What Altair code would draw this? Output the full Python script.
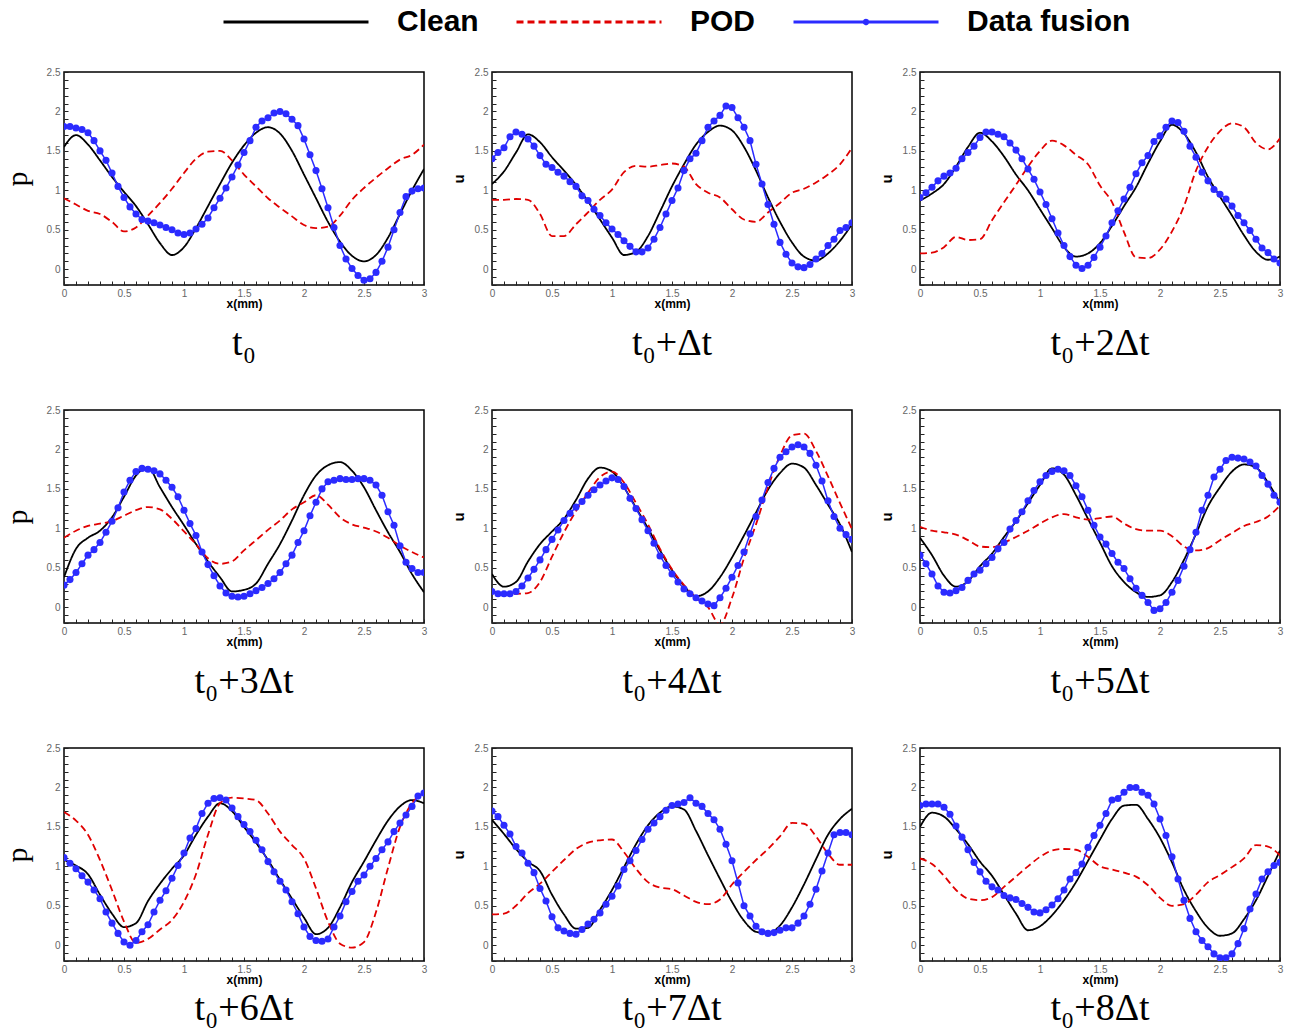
import altair as alt
import pandas as pd

# ---------------- data ----------------
SERIES = ["Clean", "POD", "Data fusion"]
COLORS = ["#000000", "#e00000", "#2b2bff"]
BLUE = "#2b2bff"
DASHES = [[1, 0], [7, 4], [1, 0]]
KEY_SHAPES = [
    "M-14.5,0H14.5",
    "M-14.5,0H14.5",
    "M-14.5,0H14.5M0.35,0A0.35,0.35 0 1,1 -0.35,0A0.35,0.35 0 1,1 0.35,0",
]

X_LINE = [round(i * 0.1, 2) for i in range(31)]      # sampling of Clean / POD
X_DOTS = [round(i * 0.05, 2) for i in range(61)]     # Data fusion markers
X_TICKS = [round(i * 0.1, 1) for i in range(31)]
Y_TICKS = [round(-0.2 + i * 0.1, 1) for i in range(28)]

TITLES = ["t\u2080", "t\u2080+\u0394t", "t\u2080+2\u0394t",
          "t\u2080+3\u0394t", "t\u2080+4\u0394t", "t\u2080+5\u0394t",
          "t\u2080+6\u0394t", "t\u2080+7\u0394t", "t\u2080+8\u0394t"]
VARS = ["p", "u", "u", "p", "u", "u", "p", "u", "u"]

CLEAN = [
    [1.55,1.70,1.58,1.38,1.17,0.98,0.80,0.57,0.33,0.18,0.28,0.52,0.80,1.08,1.35,1.57,1.73,1.80,1.72,1.50,1.20,0.90,0.60,0.35,0.17,0.10,0.18,0.40,0.70,1.00,1.27],
    [1.08,1.24,1.48,1.71,1.61,1.42,1.25,1.07,0.86,0.63,0.40,0.18,0.22,0.42,0.73,1.05,1.33,1.58,1.74,1.82,1.76,1.55,1.25,0.91,0.60,0.34,0.16,0.11,0.20,0.36,0.57],
    [0.87,0.96,1.08,1.30,1.55,1.73,1.62,1.43,1.20,1.00,0.76,0.52,0.28,0.16,0.20,0.33,0.55,0.80,1.04,1.34,1.62,1.83,1.72,1.48,1.17,0.92,0.68,0.43,0.22,0.12,0.16],
    [0.38,0.74,0.88,0.97,1.14,1.40,1.67,1.77,1.52,1.27,1.04,0.80,0.58,0.38,0.20,0.22,0.30,0.55,0.80,1.10,1.42,1.67,1.80,1.84,1.73,1.52,1.23,0.95,0.70,0.42,0.19],
    [0.42,0.26,0.32,0.58,0.80,0.96,1.12,1.36,1.63,1.77,1.72,1.52,1.26,1.00,0.72,0.47,0.27,0.14,0.20,0.38,0.63,0.91,1.20,1.49,1.70,1.82,1.77,1.55,1.30,1.05,0.70],
    [0.88,0.66,0.40,0.26,0.33,0.52,0.68,0.89,1.09,1.32,1.55,1.76,1.68,1.42,1.12,0.82,0.52,0.32,0.19,0.13,0.15,0.32,0.60,0.93,1.28,1.52,1.72,1.81,1.77,1.58,1.32],
    [1.08,1.01,0.90,0.64,0.40,0.23,0.28,0.56,0.78,0.97,1.14,1.40,1.63,1.80,1.70,1.50,1.30,1.08,0.83,0.59,0.35,0.14,0.22,0.48,0.80,1.06,1.33,1.58,1.76,1.84,1.80],
    [1.59,1.41,1.22,1.06,0.94,0.64,0.39,0.21,0.22,0.45,0.70,0.99,1.28,1.52,1.68,1.76,1.72,1.45,1.14,0.84,0.55,0.31,0.17,0.15,0.25,0.48,0.77,1.09,1.40,1.60,1.73],
    [1.50,1.68,1.63,1.47,1.28,1.06,0.88,0.64,0.40,0.19,0.24,0.38,0.57,0.80,1.07,1.34,1.60,1.77,1.78,1.60,1.36,1.05,0.70,0.43,0.22,0.12,0.15,0.33,0.57,0.88,1.20],
]

POD = [
    [0.90,0.82,0.74,0.70,0.60,0.48,0.53,0.68,0.84,1.02,1.22,1.40,1.49,1.50,1.38,1.20,1.05,0.90,0.78,0.67,0.56,0.52,0.54,0.68,0.88,1.03,1.16,1.28,1.39,1.45,1.58],
    [0.88,0.88,0.89,0.88,0.70,0.42,0.42,0.57,0.72,0.88,1.01,1.23,1.31,1.30,1.32,1.34,1.30,1.08,0.97,0.91,0.76,0.63,0.60,0.72,0.84,0.97,1.02,1.10,1.20,1.33,1.54],
    [0.20,0.21,0.28,0.41,0.37,0.38,0.62,0.85,1.07,1.30,1.50,1.63,1.57,1.45,1.33,1.06,0.85,0.47,0.15,0.14,0.25,0.48,0.80,1.25,1.55,1.75,1.85,1.80,1.60,1.52,1.66],
    [0.88,0.97,1.03,1.06,1.09,1.16,1.23,1.27,1.24,1.12,0.96,0.80,0.62,0.55,0.58,0.72,0.85,0.98,1.10,1.24,1.33,1.42,1.30,1.14,1.05,1.01,0.96,0.88,0.78,0.70,0.63],
    [0.19,0.18,0.17,0.18,0.32,0.64,0.95,1.22,1.45,1.65,1.72,1.58,1.32,1.05,0.74,0.48,0.28,0.12,0.00,-0.22,0.12,0.62,1.05,1.52,1.92,2.18,2.20,1.98,1.66,1.32,0.99],
    [1.02,0.97,0.95,0.92,0.85,0.77,0.76,0.82,0.89,0.97,1.06,1.14,1.18,1.14,1.11,1.13,1.15,1.06,0.99,0.97,0.97,0.90,0.77,0.72,0.75,0.85,0.94,1.03,1.08,1.15,1.29],
    [1.69,1.58,1.40,1.08,0.70,0.30,0.03,0.08,0.20,0.32,0.55,0.90,1.40,1.80,1.87,1.86,1.84,1.67,1.44,1.27,1.10,0.72,0.30,0.02,-0.03,0.04,0.42,0.98,1.50,1.80,1.93],
    [0.39,0.40,0.50,0.66,0.78,0.93,1.08,1.22,1.30,1.33,1.34,1.18,0.97,0.80,0.73,0.71,0.63,0.55,0.52,0.58,0.77,0.93,1.08,1.22,1.38,1.55,1.54,1.38,1.16,1.02,1.02],
    [1.10,1.03,0.88,0.70,0.59,0.57,0.61,0.74,0.87,1.00,1.12,1.20,1.22,1.21,1.12,1.00,0.96,0.92,0.87,0.76,0.60,0.50,0.52,0.64,0.80,0.89,0.99,1.10,1.27,1.25,1.14],
]

FUSION = [
    [1.81,1.81,1.79,1.77,1.73,1.63,1.50,1.38,1.22,1.05,0.91,0.79,0.70,0.63,0.61,0.59,0.56,0.53,0.50,0.46,0.44,0.46,0.51,0.57,0.65,0.78,0.90,1.03,1.17,1.32,1.48,1.63,1.80,1.88,1.92,1.98,2.00,1.97,1.90,1.82,1.65,1.45,1.25,1.02,0.78,0.53,0.30,0.13,0.01,-0.08,-0.14,-0.12,-0.04,0.10,0.28,0.50,0.72,0.92,0.99,1.02,1.03],
    [1.40,1.48,1.54,1.68,1.74,1.71,1.65,1.56,1.44,1.33,1.29,1.23,1.18,1.11,1.05,0.93,0.87,0.76,0.68,0.59,0.51,0.44,0.36,0.29,0.22,0.22,0.27,0.38,0.53,0.70,0.87,1.03,1.25,1.40,1.47,1.63,1.80,1.88,1.95,2.07,2.05,1.92,1.80,1.63,1.33,1.08,0.82,0.57,0.34,0.19,0.08,0.03,0.02,0.06,0.13,0.20,0.30,0.38,0.49,0.53,0.59],
    [0.91,0.97,1.04,1.12,1.18,1.22,1.28,1.40,1.48,1.56,1.67,1.74,1.74,1.71,1.68,1.60,1.51,1.40,1.27,1.14,0.98,0.82,0.64,0.46,0.30,0.16,0.05,0.01,0.05,0.15,0.28,0.42,0.59,0.74,0.89,1.04,1.21,1.35,1.44,1.62,1.69,1.80,1.88,1.86,1.75,1.56,1.42,1.23,1.12,1.01,0.95,0.89,0.80,0.68,0.59,0.49,0.38,0.27,0.21,0.13,0.08],
    [0.28,0.35,0.44,0.55,0.66,0.73,0.82,0.95,1.09,1.26,1.46,1.61,1.72,1.76,1.75,1.73,1.69,1.61,1.52,1.40,1.23,1.06,0.91,0.70,0.54,0.40,0.27,0.18,0.14,0.13,0.14,0.17,0.21,0.25,0.30,0.36,0.44,0.55,0.66,0.82,0.97,1.16,1.33,1.50,1.59,1.61,1.63,1.62,1.62,1.63,1.63,1.61,1.55,1.42,1.21,1.04,0.78,0.57,0.49,0.44,0.44],
    [0.20,0.17,0.17,0.17,0.20,0.27,0.37,0.48,0.60,0.73,0.86,0.98,1.10,1.19,1.27,1.34,1.42,1.49,1.55,1.60,1.64,1.62,1.53,1.38,1.25,1.11,0.97,0.81,0.65,0.53,0.42,0.32,0.23,0.17,0.12,0.08,0.04,0.02,0.12,0.24,0.38,0.53,0.70,0.93,1.15,1.36,1.58,1.76,1.90,1.97,2.03,2.06,2.03,1.95,1.80,1.60,1.35,1.15,1.00,0.92,0.86],
    [0.66,0.55,0.42,0.27,0.19,0.18,0.21,0.25,0.34,0.42,0.47,0.55,0.63,0.74,0.82,0.99,1.10,1.21,1.35,1.48,1.59,1.67,1.72,1.75,1.73,1.67,1.54,1.40,1.23,1.04,0.89,0.80,0.68,0.57,0.49,0.36,0.24,0.15,0.06,-0.04,-0.02,0.06,0.19,0.34,0.52,0.73,0.95,1.23,1.42,1.65,1.75,1.86,1.90,1.89,1.88,1.84,1.79,1.67,1.56,1.42,1.33],
    [1.11,1.04,0.97,0.88,0.80,0.70,0.59,0.42,0.28,0.15,0.04,0.00,0.06,0.17,0.26,0.42,0.57,0.69,0.85,1.01,1.17,1.36,1.48,1.67,1.80,1.86,1.87,1.84,1.74,1.63,1.53,1.44,1.33,1.21,1.06,0.93,0.81,0.70,0.55,0.40,0.23,0.11,0.06,0.05,0.08,0.23,0.37,0.55,0.68,0.81,0.89,1.00,1.10,1.21,1.31,1.44,1.55,1.65,1.76,1.89,1.93],
    [1.70,1.63,1.52,1.41,1.25,1.17,1.04,0.92,0.72,0.56,0.36,0.22,0.18,0.15,0.14,0.20,0.27,0.33,0.41,0.52,0.62,0.75,0.96,1.07,1.20,1.34,1.47,1.55,1.63,1.71,1.77,1.79,1.81,1.87,1.80,1.76,1.67,1.59,1.47,1.28,1.07,0.79,0.50,0.37,0.24,0.17,0.15,0.16,0.19,0.22,0.22,0.28,0.37,0.52,0.71,0.94,1.17,1.40,1.43,1.43,1.40],
    [1.77,1.79,1.79,1.79,1.75,1.66,1.51,1.37,1.21,1.05,0.93,0.81,0.74,0.70,0.63,0.60,0.58,0.53,0.48,0.42,0.41,0.45,0.51,0.59,0.70,0.84,0.92,1.03,1.24,1.39,1.52,1.67,1.84,1.86,1.94,2.00,2.00,1.94,1.90,1.79,1.60,1.39,1.12,0.84,0.57,0.34,0.17,0.06,-0.02,-0.11,-0.16,-0.16,-0.11,0.02,0.21,0.46,0.65,0.84,0.93,1.01,1.05],
]

LABEL_EXPR = ("abs(datum.value*2 - round(datum.value*2)) < 0.001 ? "
              "format(datum.value, '~g') : ''")

SANS = "Liberation Sans"
SERIF = "Liberation Serif"


def y_axis(var):
    common = dict(values=Y_TICKS, labelExpr=LABEL_EXPR, labelFont=SANS, labelFontSize=10,
                  labelColor="#666666", labelPadding=4, tickSize=4, tickColor="#222222",
                  offset=-4, domain=False, grid=False, labelFlush=False, labelOverlap=False,
                  title=var, titleColor="black")
    if var == "p":
        return alt.Axis(titleFont=SERIF, titleFontSize=30, titleFontWeight="normal",
                        titlePadding=14, **common)
    return alt.Axis(titleFont=SANS, titleFontSize=15, titleFontWeight="bold",
                    titlePadding=8, **common)


X_AXIS = alt.Axis(values=X_TICKS, labelExpr=LABEL_EXPR, labelFont=SANS, labelFontSize=10,
                  labelColor="#666666", labelPadding=3, tickSize=4, tickColor="#222222",
                  offset=-4, domain=False, grid=False, labelFlush=False, labelOverlap=False,
                  title="x(mm)", titleFont=SANS, titleFontSize=12, titleFontWeight="bold",
                  titleColor="black", titlePadding=0)


def make_panel(k):
    rows = []
    for x, v in zip(X_LINE, CLEAN[k]):
        rows.append({"x": x, "v": v, "s": "Clean"})
    for x, v in zip(X_LINE, POD[k]):
        rows.append({"x": x, "v": v, "s": "POD"})
    for x, v in zip(X_DOTS, FUSION[k]):
        rows.append({"x": x, "v": v, "s": "Data fusion"})
    df = pd.DataFrame(rows)

    xenc = alt.X("x:Q", scale=alt.Scale(domain=[0, 3], nice=False, zero=False), axis=X_AXIS)
    yenc = alt.Y("v:Q", scale=alt.Scale(domain=[-0.2, 2.5], nice=False, zero=False),
                 axis=y_axis(VARS[k]))
    color = alt.Color("s:N", scale=alt.Scale(domain=SERIES, range=COLORS),
                      legend=alt.Legend(title=None))
    dash = alt.StrokeDash("s:N", scale=alt.Scale(domain=SERIES, range=DASHES),
                          legend=alt.Legend(title=None))
    base = alt.Chart(df)

    smooth = base.transform_filter(
        alt.FieldOneOfPredicate(field="s", oneOf=["Clean", "POD"])
    ).mark_line(interpolate="monotone", strokeWidth=1.8, clip=True, opacity=1).encode(
        x=xenc, y=yenc, color=color, strokeDash=dash)

    fusion_line = base.transform_filter(alt.datum.s == "Data fusion").mark_line(
        strokeWidth=1.5, clip=True, opacity=1).encode(x=xenc, y=yenc, color=color, strokeDash=dash)

    dots = base.transform_filter(alt.datum.s == "Data fusion").mark_circle(
        size=50, opacity=1, color=BLUE, clip=True).encode(x=xenc, y=yenc)

    key = base.transform_filter("false").mark_point(opacity=1).encode(
        x=xenc, y=yenc, color=color,
        shape=alt.Shape("s:N", scale=alt.Scale(domain=SERIES, range=KEY_SHAPES),
                        legend=alt.Legend(title=None)))

    title_offset = 16 if k < 6 else 5
    return alt.layer(smooth, fusion_line, dots, key).properties(
        width=360, height=213,
        title=alt.TitleParams(text=TITLES[k], orient="bottom", font=SERIF, fontSize=38,
                              fontWeight="normal", color="black", offset=title_offset,
                              anchor="middle"))


panels = [make_panel(k) for k in range(9)]

chart = alt.concat(
    *panels, columns=3, spacing={"row": 125, "column": 68}, bounds="flush"
).properties(
    padding={"left": 1, "top": 7, "right": 4, "bottom": 2}
).configure_view(
    stroke="black", strokeWidth=1.5
).configure_legend(
    orient="none", legendX=217, legendY=-65, direction="horizontal",
    labelFont=SANS, labelFontSize=30, labelFontWeight="bold", labelColor="black",
    symbolSize=100, symbolStrokeWidth=3, symbolOpacity=1, labelOffset=86, columnPadding=31,
    labelLimit=400
)

chart.save("out.html", embed_options={"renderer": "svg", "actions": False})
